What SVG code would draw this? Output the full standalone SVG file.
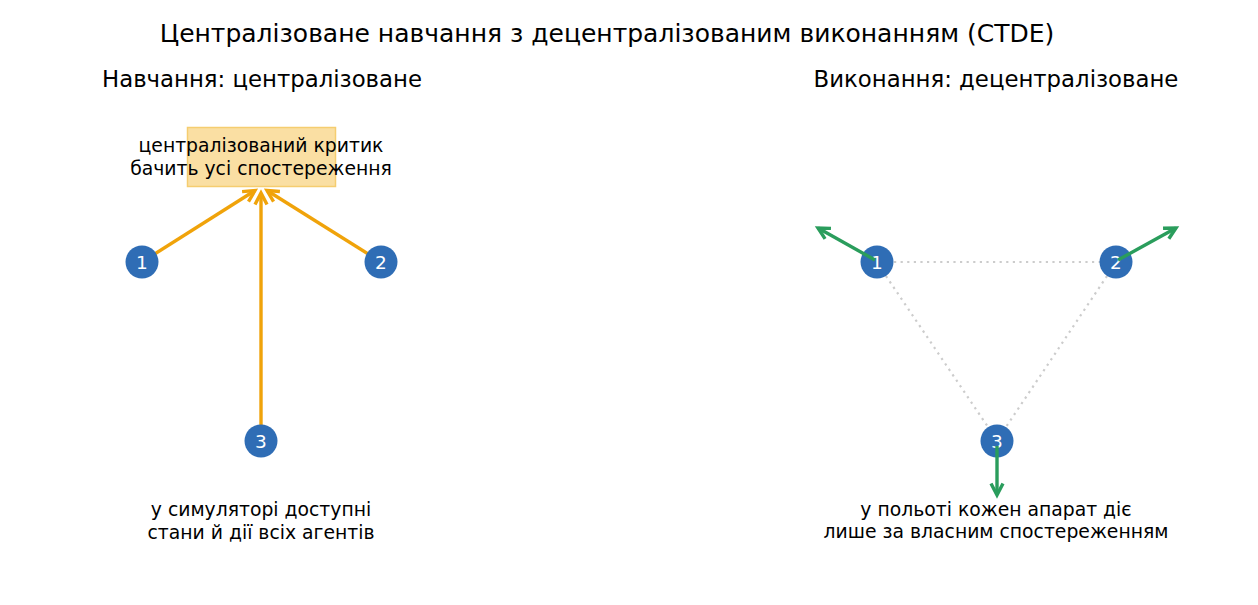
<svg xmlns="http://www.w3.org/2000/svg" width="1258" height="605" viewBox="0 0 1258 605">
<style>
text{font-family:"DejaVu Sans","Noto Sans",sans-serif;fill:#000}
.title{font-size:25px}
.sub{font-size:22.8px}
.lbl{font-size:18.8px}
.num{font-size:18.5px;fill:#fff}
.node{fill:#2f6db5}
.or{stroke:#f0a30a;stroke-width:3.4;fill:none}
.gr{stroke:#2a9d5c;stroke-width:3.4;fill:none}
.dot{stroke:#cccccc;stroke-width:2.2;stroke-dasharray:2.2 4.4;fill:none}
</style>
<defs>
<marker id="ho" markerUnits="userSpaceOnUse" markerWidth="18" markerHeight="18" refX="13" refY="7" orient="auto" viewBox="0 0 18 14">
<path d="M1.5,1 L13,7 L1.5,13" fill="none" stroke="#f0a30a" stroke-width="3.4" stroke-linejoin="miter"/>
</marker>
<marker id="hg" markerUnits="userSpaceOnUse" markerWidth="18" markerHeight="18" refX="13" refY="7" orient="auto" viewBox="0 0 18 14">
<path d="M1.5,1 L13,7 L1.5,13" fill="none" stroke="#2a9d5c" stroke-width="3.4" stroke-linejoin="miter"/>
</marker>
</defs>
<rect width="1258" height="605" fill="#fff"/>
<text class="title" x="607" y="42" text-anchor="middle">Централізоване навчання з децентралізованим виконанням (CTDE)</text>
<text class="sub" x="262" y="87" text-anchor="middle">Навчання: централізоване</text>
<text class="sub" x="996" y="87" text-anchor="middle">Виконання: децентралізоване</text>

<g id="critic">
<rect x="187.5" y="127.5" width="148" height="59" fill="#fadfa3" stroke="#f5cd70" stroke-width="1.5"/>
<text class="lbl" x="261" y="152" text-anchor="middle">централізований критик</text>
<text class="lbl" x="261" y="175" text-anchor="middle">бачить усі спостереження</text>
</g>

<g id="connectors">
<line class="or" x1="142" y1="262" x2="255" y2="190.5" marker-end="url(#ho)"/>
<line class="or" x1="381" y1="262" x2="267" y2="190.5" marker-end="url(#ho)"/>
<line class="or" x1="261" y1="441" x2="261" y2="193" marker-end="url(#ho)"/>
<line class="dot" x1="894" y1="262" x2="1100" y2="262"/>
<line class="dot" x1="886" y1="276" x2="988" y2="427"/>
<line class="dot" x1="1107" y1="276" x2="1006" y2="427"/>
</g>

<g id="L1"><circle class="node" cx="142" cy="262" r="16.5"/><text class="num" x="142" y="268.5" text-anchor="middle">1</text></g>
<g id="L2"><circle class="node" cx="381" cy="262" r="16.5"/><text class="num" x="381" y="268.5" text-anchor="middle">2</text></g>
<g id="L3"><circle class="node" cx="261" cy="441" r="16.5"/><text class="num" x="261" y="447.5" text-anchor="middle">3</text></g>
<g id="R1"><circle class="node" cx="877" cy="262" r="16.5"/><text class="num" x="877" y="268.5" text-anchor="middle">1</text></g>
<g id="R2"><circle class="node" cx="1116" cy="262" r="16.5"/><text class="num" x="1116" y="268.5" text-anchor="middle">2</text></g>
<g id="R3"><circle class="node" cx="997" cy="441" r="16.5"/><text class="num" x="997" y="447.5" text-anchor="middle">3</text></g>

<g id="exec-arrows">
<line class="gr" x1="875" y1="260" x2="818" y2="228" marker-end="url(#hg)"/>
<line class="gr" x1="1118" y1="260" x2="1176" y2="228" marker-end="url(#hg)"/>
<line class="gr" x1="997" y1="446" x2="997" y2="495" marker-end="url(#hg)"/>
</g>

<text class="lbl" x="261" y="516" text-anchor="middle">у симуляторі доступні</text>
<text class="lbl" x="261" y="539" text-anchor="middle">стани й дії всіх агентів</text>
<text class="lbl" x="996" y="516" text-anchor="middle">у польоті кожен апарат діє</text>
<text class="lbl" x="996" y="538" text-anchor="middle">лише за власним спостереженням</text>
</svg>
